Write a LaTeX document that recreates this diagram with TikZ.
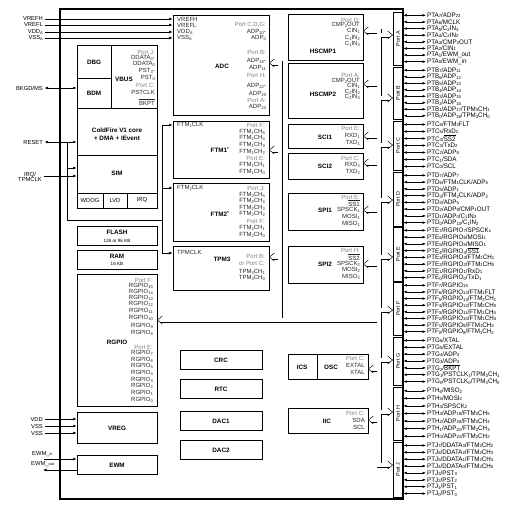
\documentclass[tikz,border=0pt]{standalone}
\usepackage{fontspec}
\setmainfont{Liberation Sans}
\usetikzlibrary{arrows.meta,fit}
\newcommand\dg[1]{\raisebox{-0.3pt}{\scalebox{0.68}{#1}}}
\newcommand\ovl[1]{\ensuremath{\overline{\mbox{#1}}}}
\newcommand\nrw[1]{\scalebox{0.96}[1]{#1}}
\tikzset{
 mcu/.style={draw, line width=1.8pt, inner sep=0pt},
 blk/.style={draw, line width=0.8pt, inner sep=0pt},
 bn/.style={font=\fontsize{6.3}{7}\selectfont\bfseries, inner sep=0pt},
 sg/.style={font=\fontsize{6}{6}\selectfont, inner sep=0pt, text=black!85},
 pg/.style={sg, text=black!50},
 sb/.style={font=\fontsize{5.8}{6}\selectfont, inner sep=0pt},
 sm/.style={font=\fontsize{4.6}{5}\selectfont, inner sep=0pt},
 ext/.style={font=\fontsize{5.8}{6}\selectfont, inner sep=0pt, anchor=east},
 pinl/.style={font=\fontsize{6.5}{7}\selectfont, inner sep=0pt, anchor=west},
 pina/.style={{Latex[length=3.5pt,width=2.6pt]}-{Latex[length=3.5pt,width=2.6pt]}, line width=0.5pt},
 ina/.style={-{Latex[length=3.5pt,width=2.8pt]}, line width=0.6pt},
 ln/.style={line width=0.6pt},
 bo/.style={line width=5pt, black},
 bi/.style={line width=3.2pt, white},
}
\newcommand\blk[5]{\path (#2,#3) coordinate (#1-nw) (#4,#5) coordinate (#1-se);
 \node[blk, fit=(#1-nw)(#1-se)] (#1) {};}
\newcommand\txtlist[4]{\foreach \t/\y/\s [count=\i] in {#4} {\node[\s, anchor=#3] (#1\i) at (#2,\y) {\t};}}
\newcommand\portbox[5]{%
 \path (393,#2) coordinate (pt#1-nw) (403,#3) coordinate (pt#1-se);
 \node[blk, fit=(pt#1-nw)(pt#1-se)] (port#1) {};
 \node[font=\fontsize{5.4}{6}\selectfont, rotate=90, inner sep=0pt] (port#1t) at (port#1.center) {Port #1};
 \foreach \q [count=\i] in {#5} {
   \pgfmathsetmacro\yy{#2+(\i-0.5)*(#3-#2)/#4}
   \node[pinl] (pin#1\i) at (427,\yy) {\nrw{\q}};
   \draw[pina] (port#1.east |- pin#1\i.west) -- ([xshift=-1pt]pin#1\i.west);
 }}
\newcommand\hL[1]{\fill[white] (#1) -- ([shift={(3.3,-2.6)}]#1) -- ([shift={(3.3,2.6)}]#1) -- cycle;
 \draw[line width=0.5pt] ([shift={(5,-4)}]#1) -- (#1) -- ([shift={(5,4)}]#1);}
\newcommand\hR[1]{\fill[white] (#1) -- ([shift={(-3.3,-2.6)}]#1) -- ([shift={(-3.3,2.6)}]#1) -- cycle;
 \draw[line width=0.5pt] ([shift={(-5,-4)}]#1) -- (#1) -- ([shift={(-5,4)}]#1);}
\begin{document}
\begin{tikzpicture}[x=1pt,y=-1pt]
\fill[white] (0,0) rectangle (520,507);
\useasboundingbox (0,0) rectangle (520,507);
% main box
\path (60,9) coordinate (m-nw) (403,499) coordinate (m-se);
\node[mcu, fit=(m-nw)(m-se)] (mcu) {};
% blocks
\blk{adc}{173}{15}{269}{115}
\blk{dbg}{77}{45}{111}{78}
\blk{bdm}{77}{78}{111}{108}
\blk{vbus}{111}{45}{157}{108}
\blk{core}{77}{108}{157}{155}
\blk{sim}{77}{155}{157}{208}
\blk{wdog}{77}{193}{103}{208}
\blk{lvd}{103}{193}{127}{208}
\blk{irqb}{127}{193}{157}{208}
\blk{flash}{77}{226}{157}{245}
\blk{ram}{77}{250}{157}{269}
\blk{rgpio}{77}{274}{157}{406}
\blk{vreg}{77}{412}{157}{443}
\blk{ewm}{77}{455}{157}{474}
\blk{ftm1}{173}{121}{269}{178}
\blk{ftm2}{173}{183}{269}{241}
\blk{tpm3}{173}{246}{269}{290}
\blk{crc}{180}{350}{262}{369}
\blk{rtc}{180}{379}{262}{398}
\blk{dac1}{180}{411}{262}{430}
\blk{dac2}{180}{440}{262}{459}
\blk{hs1}{288}{14}{363}{60}
\blk{hs2}{288}{63}{363}{118}
\blk{sci1}{288}{124}{363}{148}
\blk{sci2}{288}{153}{363}{179}
\blk{spi1}{288}{193}{363}{230}
\blk{spi2}{288}{246}{363}{283}
\blk{ics}{288}{354}{317}{379}
\blk{osc}{317}{354}{368}{379}
\blk{iic}{288}{408}{368}{433}
% block names
\node[bn] (dbgn) at (94,62) {DBG};
\node[bn] (bdmn) at (94,93) {BDM};
\node[bn] (vbusn) at (124,79) {VBUS};
\node[bn] (coren1) at (117,130) {ColdFire V1 core};
\node[bn] (coren2) at (117,138) {+ DMA + IEvent};
\node[bn] (simn) at (117,173) {SIM};
\node[sb] (wdogn) at (90,200.5) {WDOG};
\node[sb] (lvdn) at (115,200.5) {LVD};
\node[sb] (irqn) at (142,200.5) {IRQ};
\node[bn] (flashn) at (117,232.5) {FLASH};
\node[sm] (flashs) at (117,240.5) {128 or 96 KB};
\node[bn] (ramn) at (117,256.5) {RAM};
\node[sm] (rams) at (117,264) {16 KB};
\node[bn] (rgpion) at (117,342) {RGPIO};
\node[bn] (vregn) at (117,428) {VREG};
\node[bn] (ewmn) at (117,465) {EWM};
\node[bn] (adcn) at (222,66) {ADC};
\node[bn] (ftm1n) at (220,150) {FTM1\textsuperscript{*}};
\node[bn] (ftm2n) at (220,214) {FTM2\textsuperscript{*}};
\node[bn] (tpm3n) at (222,259) {TPM3};
\node[bn] (crcn) at (221,360) {CRC};
\node[bn] (rtcn) at (221,389) {RTC};
\node[bn] (dac1n) at (221,421) {DAC1};
\node[bn] (dac2n) at (221,450) {DAC2};
\node[bn] (hs1n) at (323,51) {HSCMP1};
\node[bn] (hs2n) at (323,94) {HSCMP2};
\node[bn] (sci1n) at (325,137) {SCI1};
\node[bn] (sci2n) at (325,166) {SCI2};
\node[bn] (spi1n) at (325,210) {SPI1};
\node[bn] (spi2n) at (325,264) {SPI2};
\node[bn] (icsn) at (302,367) {ICS};
\node[bn] (oscn) at (331,367) {OSC};
\node[bn] (iicn) at (327,421) {IIC};
% block texts
\txtlist{adcl}{177}{west}{VREFH/19/sg, VREFL/25/sg, VDD\dg{A}/32/sg, VSS\dg{A}/38/sg}
\txtlist{adcr}{266}{east}{{Port C,D,G:}/25/pg, ADP\dg{10}-/32/sg, ADP\dg{0}/38/sg, Port B:/52/pg, ADP\dg{18}-/61/sg, ADP\dg{11}/68/sg, Port H:/75/pg, ADP\dg{22}-/86/sg, ADP\dg{19}/94/sg, Port A:/100/pg, ADP\dg{23}/107/sg}
\txtlist{vbusr}{155}{east}{Port J:/52/pg, DDATA\dg{3}-/58/sg, DDATA\dg{0}/64/sg, PST\dg{3}-/71/sg, PST\dg{0}/78/sg, Port C:/85/pg, PSTCLK/92/sg, \ovl{BKPT}/102/sg}
\txtlist{ftm1l}{177}{west}{FTM\dg{1}CLK/125/sg}
\txtlist{ftm1r}{265}{east}{Port F:/125/pg, FTM\dg{1}CH\dg{5}/132/sg, FTM\dg{1}CH\dg{4}/138/sg, FTM\dg{1}CH\dg{3}/145/sg, FTM\dg{1}CH\dg{2}/152/sg, Port E:/158/pg, FTM\dg{1}CH\dg{1}/165/sg, FTM\dg{1}CH\dg{0}/172/sg}
\txtlist{ftm2l}{177}{west}{FTM\dg{2}CLK/188/sg}
\txtlist{ftm2r}{265}{east}{Port J:/188/pg, FTM\dg{2}CH\dg{5}/195/sg, FTM\dg{2}CH\dg{4}/201/sg, FTM\dg{2}CH\dg{3}/208/sg, FTM\dg{2}CH\dg{2}/214/sg, Port F:/221/pg, FTM\dg{2}CH\dg{1}/228/sg, FTM\dg{2}CH\dg{0}/235/sg}
\txtlist{tpm3l}{177}{west}{TPMCLK/252/sg}
\txtlist{tpm3r}{265}{east}{Port B:/256/pg, or Port C:/263/pg, TPM\dg{3}CH\dg{1}/272/sg, TPM\dg{3}CH\dg{0}/278/sg}
\txtlist{rgpior}{153}{east}{Port F:/280/pg, RGPIO\dg{15}/286/sg, RGPIO\dg{14}/292/sg, RGPIO\dg{13}/298/sg, RGPIO\dg{12}/304/sg, RGPIO\dg{11}/311/sg, RGPIO\dg{10}/318/sg, RGPIO\dg{9}/326/sg, RGPIO\dg{8}/333/sg, Port E:/347/pg, RGPIO\dg{7}/353/sg, RGPIO\dg{6}/360/sg, RGPIO\dg{5}/366/sg, RGPIO\dg{4}/373/sg, RGPIO\dg{3}/380/sg, RGPIO\dg{2}/386/sg, RGPIO\dg{1}/393/sg, RGPIO\dg{0}/400/sg}
\txtlist{hs1r}{360}{east}{Port D:/20/pg, CMP\dg{1}OUT/25/sg, CIN\dg{1}/31/sg, C\dg{1}IN\dg{2}/38/sg, C\dg{1}IN\dg{3}/44/sg}
\txtlist{hs2r}{360}{east}{Port A:/75/pg, CMP\dg{2}OUT/81/sg, CIN\dg{1}/86/sg, C\dg{2}IN\dg{2}/92/sg, C\dg{2}IN\dg{3}/97/sg}
\txtlist{sci1r}{360}{east}{Port E:/128/pg, RXD\dg{1}/136/sg, TXD\dg{1}/143/sg}
\txtlist{sci2r}{360}{east}{Port C:/158/pg, RXD\dg{2}/165/sg, TXD\dg{2}/172/sg}
\txtlist{spi1r}{360}{east}{Port E:/197/pg, \ovl{SS1}/203/sg, SPSCK\dg{1}/210/sg, MOSI\dg{1}/217/sg, MISO\dg{1}/224/sg}
\txtlist{spi2r}{360}{east}{Port H:/250/pg, \ovl{SS2}/257/sg, SPSCK\dg{2}/264/sg, MOSI\dg{2}/270/sg, MISO\dg{2}/277/sg}
\txtlist{oscr}{365}{east}{Port C:/358/pg, EXTAL/365/sg, XTAL/372/sg}
\txtlist{iicr}{365}{east}{Port C:/413/pg, SDA/420/sg, SCL/427/sg}
% ports and pins
\portbox{A}{12}{65}{8}{PTA\dg{7}/ADP\dg{23}, PTA\dg{6}/MCLK, PTA\dg{5}/C\dg{2}IN\dg{3}, PTA\dg{4}/C\dg{2}IN\dg{2}, PTA\dg{3}/CMP\dg{2}OUT, PTA\dg{2}/CIN\dg{1}, PTA\dg{1}/EWM\_out, PTA\dg{0}/EWM\_in}
\portbox{B}{67}{119}{8}{PTB\dg{7}/ADP\dg{11}, PTB\dg{6}/ADP\dg{12}, PTB\dg{5}/ADP\dg{13}, PTB\dg{4}/ADP\dg{14}, PTB\dg{3}/ADP\dg{15}, PTB\dg{2}/ADP\dg{16}, PTB\dg{1}/ADP\dg{17}/TPM\dg{3}CH\dg{1}, PTB\dg{0}/ADP\dg{18}/TPM\dg{3}CH\dg{0}}
\portbox{C}{121}{170}{7}{PTC\dg{6}/FTM\dg{2}FLT, PTC\dg{5}/RxD\dg{2}, PTC\dg{4}/\ovl{SS2}, PTC\dg{3}/TxD\dg{2}, PTC\dg{2}/ADP\dg{8}, PTC\dg{1}/SDA, PTC\dg{0}/SCL}
\portbox{D}{172}{226}{8}{PTD\dg{7}/ADP\dg{7}, PTD\dg{6}/FTM\dg{1}CLK/ADP\dg{6}, PTD\dg{5}/ADP\dg{1}, PTD\dg{4}/FTM\dg{2}CLK/ADP\dg{2}, PTD\dg{3}/ADP\dg{5}, PTD\dg{2}/ADP\dg{9}/CMP\dg{1}OUT, PTD\dg{1}/ADP\dg{0}/C\dg{1}IN\dg{3}, PTD\dg{0}/ADP\dg{10}/C\dg{1}IN\dg{2}}
\portbox{E}{227}{281}{8}{PTE\dg{7}/RGPIO\dg{7}/SPSCK\dg{1}, PTE\dg{6}/RGPIO\dg{6}/MOSI\dg{1}, PTE\dg{5}/RGPIO\dg{5}/MISO\dg{1}, PTE\dg{4}/RGPIO\dg{4}/\ovl{SS1}, PTE\dg{3}/RGPIO\dg{3}/FTM\dg{1}CH\dg{1}, PTE\dg{2}/RGPIO\dg{2}/FTM\dg{1}CH\dg{0}, PTE\dg{1}/RGPIO\dg{1}/RxD\dg{1}, PTE\dg{0}/RGPIO\dg{0}/TxD\dg{1}}
\portbox{F}{282}{335}{8}{PTF\dg{7}/RGPIO\dg{15}, PTF\dg{6}/RGPIO\dg{14}/FTM\dg{1}FLT, PTF\dg{5}/RGPIO\dg{13}/FTM\dg{2}CH\dg{1}, PTF\dg{4}/RGPIO\dg{12}/FTM\dg{2}CH\dg{0}, PTF\dg{3}/RGPIO\dg{11}/FTM\dg{1}CH\dg{5}, PTF\dg{2}/RGPIO\dg{10}/FTM\dg{1}CH\dg{4}, PTF\dg{1}/RGPIO\dg{9}/FTM\dg{1}CH\dg{3}, PTF\dg{0}/RGPIO\dg{8}/FTM\dg{1}CH\dg{2}}
\portbox{G}{337}{385}{7}{PTG\dg{6}/XTAL, PTG\dg{5}/EXTAL, PTG\dg{4}/ADP\dg{3}, PTG\dg{3}/ADP\dg{4}, PTG\dg{2}/\ovl{BKPT}, PTG\dg{1}/PSTCLK\dg{1}/TPM\dg{3}CH\dg{1}, PTG\dg{0}/PSTCLK\dg{0}/TPM\dg{3}CH\dg{0}}
\portbox{H}{387}{440}{7}{PTH\dg{6}/MISO\dg{2}, PTH\dg{5}/MOSI\dg{2}, PTH\dg{4}/SPSCK\dg{2}, PTH\dg{3}/ADP\dg{19}/FTM\dg{2}CH\dg{5}, PTH\dg{2}/ADP\dg{20}/FTM\dg{2}CH\dg{4}, PTH\dg{1}/ADP\dg{21}/FTM\dg{2}CH\dg{3}, PTH\dg{0}/ADP\dg{22}/FTM\dg{2}CH\dg{2}}
\portbox{J}{442}{497}{8}{PTJ\dg{7}/DDATA\dg{3}/FTM\dg{2}CH\dg{2}, PTJ\dg{6}/DDATA\dg{2}/FTM\dg{2}CH\dg{3}, PTJ\dg{5}/DDATA\dg{1}/FTM\dg{2}CH\dg{4}, PTJ\dg{4}/DDATA\dg{0}/FTM\dg{2}CH\dg{5}, PTJ\dg{3}/PST\dg{3}, PTJ\dg{2}/PST\dg{2}, PTJ\dg{1}/PST\dg{1}, PTJ\dg{0}/PST\dg{0}}
% bus
\coordinate (adcT) at (adc.east |- 0,63);
\coordinate (ftm1T) at (ftm1.east |- 0,150);
\coordinate (tpm3T) at (tpm3.east |- 0,257);
\coordinate (rgpioT) at (rgpio.east |- 0,320);
\coordinate (hs1T) at (hs1.east |- 0,31);
\coordinate (hs2T) at (hs2.east |- 0,84);
\coordinate (sci1T) at (sci1.east |- 0,136);
\coordinate (sci2T) at (sci2.east |- 0,163);
\coordinate (spi1T) at (spi1.east |- 0,210);
\coordinate (spi2T) at (spi2.east |- 0,264);
\coordinate (oscT) at (osc.east |- 0,369);
\coordinate (iicT) at (iic.east |- 0,420);
\coordinate (pAT) at (portA.west |- 0,35);
\coordinate (pBT) at (portB.west |- 0,98);
\coordinate (pCT) at (portC.west |- 0,145);
\coordinate (pDT) at (portD.west |- 0,200);
\coordinate (pET) at (portE.west |- 0,257);
\coordinate (pFT) at (portF.west |- 0,310);
\coordinate (pGT) at (portG.west |- 0,360);
\coordinate (pHT) at (portH.west |- 0,412);
\coordinate (pJT) at (portJ.west |- 0,465);
\foreach \st in {bo,bi}{
 \draw[\st] ([xshift=3pt]adcT) -| (280,320);
 \draw[\st] ([xshift=3pt]ftm1T) -- (280,150);
 \draw[\st] ([xshift=3pt]tpm3T) -- (280,257);
 \draw[\st] ([xshift=3pt]rgpioT) -- (379,320);
 \draw[\st] ([xshift=3pt]hs1T) -| (379,465) -- ([xshift=-3pt]pJT);
 \foreach \c in {hs2T,sci1T,sci2T,spi1T,spi2T,oscT,iicT}{\draw[\st] ([xshift=3pt]\c) -- (379,0 |- \c);}
 \foreach \c in {pAT,pBT,pCT,pDT,pET,pFT,pGT,pHT}{\draw[\st] (379,0 |- \c) -- ([xshift=-3pt]\c);}
}
\foreach \c in {adcT,ftm1T,tpm3T,rgpioT,hs1T,hs2T,sci1T,sci2T,spi1T,spi2T,oscT,iicT}{\hL{\c}}
\foreach \c in {pAT,pBT,pCT,pDT,pET,pFT,pGT,pHT,pJT}{\hR{\c}}
% external left signals
\node[ext] (vrefh) at (43,19) {VREFH};
\node[ext] (vrefl) at (43,25) {VREFL};
\node[ext] (vdda) at (43,32) {VDD\dg{A}};
\node[ext] (vssa) at (43,38) {VSS\dg{A}};
\foreach \n in {vrefh,vrefl,vdda,vssa}{\draw[ina] ([xshift=1.5pt]\n.east) -- (adc.west |- \n.east);}
\node[ext] (bkgd) at (43,88) {BKGD/MS};
\draw[pina] ([xshift=1.5pt]bkgd.east) -- (bdm.west |- bkgd.east);
\node[ext] (reset) at (43,142) {RESET};
\draw[pina] ([xshift=1.5pt]reset.east) -- (core.west |- reset.east);
\node[font=\fontsize{5.8}{6}\selectfont, inner sep=0pt, align=center] (irqp) at (30,177) {IRQ/\\[-1.5pt]TPMCLK};
\coordinate (irqs) at (44,176);
\draw[ina] (irqs) -- (sim.west |- irqs);
\coordinate (v1) at (67,142);
\coordinate (v2) at (67,220);
\coordinate (v3) at (162,220);
\coordinate (c1) at (162,125);
\coordinate (c3) at (162,253);
\draw[ln] (v1) -- (v2) -- (v3);
\draw[ln] (c1) -- (c3);
\draw[ina] (67,168) -- (sim.west |- 0,168);
\draw[ina] (c1) -- (ftm1.west |- c1);
\draw[ina] (162,188) -- (ftm2.west |- 0,188);
\draw[ina] (c3) -- (tpm3.west |- c3);
\node[ext] (vdd) at (43,419) {VDD};
\node[ext] (vss1) at (43,426) {VSS};
\node[ext] (vss2) at (43,433) {VSS};
\foreach \n in {vdd,vss1,vss2}{\draw[ina] ([xshift=1.5pt]\n.east) -- (vreg.west |- \n.east);}
\node[font=\fontsize{5.8}{6}\selectfont, inner sep=0pt, anchor=west] (ewmin) at (32,454) {EWM\_\dg{in}};
\node[font=\fontsize{5.8}{6}\selectfont, inner sep=0pt, anchor=west] (ewmout) at (31,464) {EWM\_\dg{out}};
\draw[ina] (44,459) -- (ewm.west |- 0,459);
\draw[ina] (ewm.west |- 0,470) -- (43,470);
\end{tikzpicture}
\end{document}
